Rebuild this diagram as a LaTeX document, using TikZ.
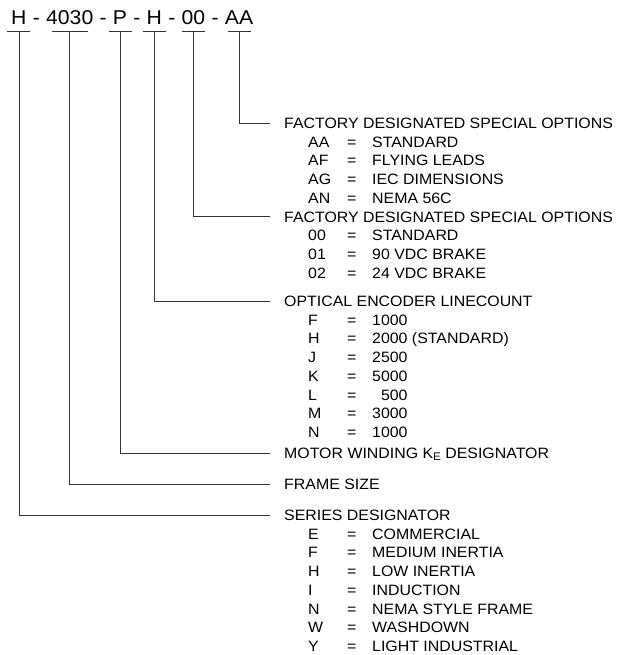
\documentclass[tikz,border=0pt]{standalone}
\usepackage{fontspec}
\setmainfont{Liberation Sans}[FakeStretch=1.06]
\usetikzlibrary{positioning, calc}

% one line of an option list: code, "=", value
\newcommand{\valrow}[2]{\makebox[39pt][l]{#1}\makebox[25pt][l]{=}#2}

\begin{document}
\begin{tikzpicture}[
  x=1pt, y=-1pt,
  code/.style={font=\fontsize{20}{24}\selectfont, inner sep=0pt,
    text height=14.5pt, text depth=0pt},
  hdr/.style={font=\fontsize{15}{18.7}\selectfont, inner xsep=14pt,
    inner ysep=0pt, text height=11pt, text depth=0pt, anchor=base west},
  row/.style={font=\fontsize{15}{18.7}\selectfont, inner sep=0pt,
    anchor=base west},
  lead/.style={line width=0.7pt, draw=black!80}
]
\useasboundingbox (0,0) rectangle (620,655);

% part number
\node[code, anchor=base west] (cH) at (11,24.5) {H};
\node[code, right=0pt of cH] (d1) {\ -\ \null};
\node[code, right=0pt of d1] (c4030) {4030};
\node[code, right=0pt of c4030] (d2) {\ -\ \null};
\node[code, right=0pt of d2] (cP) {P};
\node[code, right=0pt of cP] (d3) {\ -\ \null};
\node[code, right=0pt of d3] (cL) {H};
\node[code, right=0pt of cL] (d4) {\ -\ \null};
\node[code, right=0pt of d4] (c00) {00};
\node[code, right=0pt of c00] (d5) {\ -\ \null};
\node[code, right=0pt of d5] (cAA) {AA};

% underlines
\draw[lead] ([xshift=-11.5pt, yshift=-6.3pt]cH.south) -- ([xshift=11.5pt, yshift=-6.3pt]cH.south);
\draw[lead] ([xshift=-18pt, yshift=-6.3pt]c4030.south) -- ([xshift=18pt, yshift=-6.3pt]c4030.south);
\draw[lead] ([xshift=-11.5pt, yshift=-6.3pt]cP.south) -- ([xshift=11.5pt, yshift=-6.3pt]cP.south);
\draw[lead] ([xshift=-11.5pt, yshift=-6.3pt]cL.south) -- ([xshift=11.5pt, yshift=-6.3pt]cL.south);
\draw[lead] ([xshift=-11.5pt, yshift=-6.3pt]c00.south) -- ([xshift=11.5pt, yshift=-6.3pt]c00.south);
\draw[lead] ([xshift=-11.5pt, yshift=-6.3pt]cAA.south) -- ([xshift=11.5pt, yshift=-6.3pt]cAA.south);

% headings
\node[hdr] (hAA) at (270,128.5) {FACTORY DESIGNATED SPECIAL OPTIONS};
\node[hdr] (h00) at (270,222) {FACTORY DESIGNATED SPECIAL OPTIONS};
\node[hdr] (hEnc) at (270,306.5) {OPTICAL ENCODER LINECOUNT};
\node[hdr] (hWind) at (270,458.5) {MOTOR WINDING K\raisebox{-0.3ex}{\fontsize{11}{11}\selectfont E} DESIGNATOR};
\node[hdr] (hFrame) at (270,489.5) {FRAME SIZE};
\node[hdr] (hSer) at (270,520.5) {SERIES DESIGNATOR};

% option lists
\foreach \k/\v [count=\i] in {AA/STANDARD, AF/FLYING LEADS, AG/IEC DIMENSIONS, AN/NEMA 56C}
  \node[row] (aa-\i) at (308,128.5+18.7*\i) {\valrow{\k}{\v}};
\foreach \k/\v [count=\i] in {00/STANDARD, 01/90 VDC BRAKE, 02/24 VDC BRAKE}
  \node[row] (oo-\i) at (308,222+18.7*\i) {\valrow{\k}{\v}};
\foreach \k/\v [count=\i] in {F/1000, H/2000 (STANDARD), J/2500, K/5000, L/\hphantom{0}500, M/3000, N/1000}
  \node[row] (enc-\i) at (308,306.5+18.7*\i) {\valrow{\k}{\v}};
\foreach \k/\v [count=\i] in {E/COMMERCIAL, F/MEDIUM INERTIA, H/LOW INERTIA, I/INDUCTION, N/NEMA STYLE FRAME, W/WASHDOWN, Y/LIGHT INDUSTRIAL}
  \node[row] (ser-\i) at (308,520.5+18.7*\i) {\valrow{\k}{\v}};

% leaders
\draw[lead] ([yshift=-6.3pt]cAA.south) |- (hAA.west);
\draw[lead] ([yshift=-6.3pt]c00.south) |- (h00.west);
\draw[lead] ([yshift=-6.3pt]cL.south) |- (hEnc.west);
\draw[lead] ([yshift=-6.3pt]cP.south) |- (hWind.west);
\draw[lead] ([yshift=-6.3pt]c4030.south) |- (hFrame.west);
\draw[lead] ([yshift=-6.3pt]cH.south) |- (hSer.west);
\end{tikzpicture}
\end{document}
